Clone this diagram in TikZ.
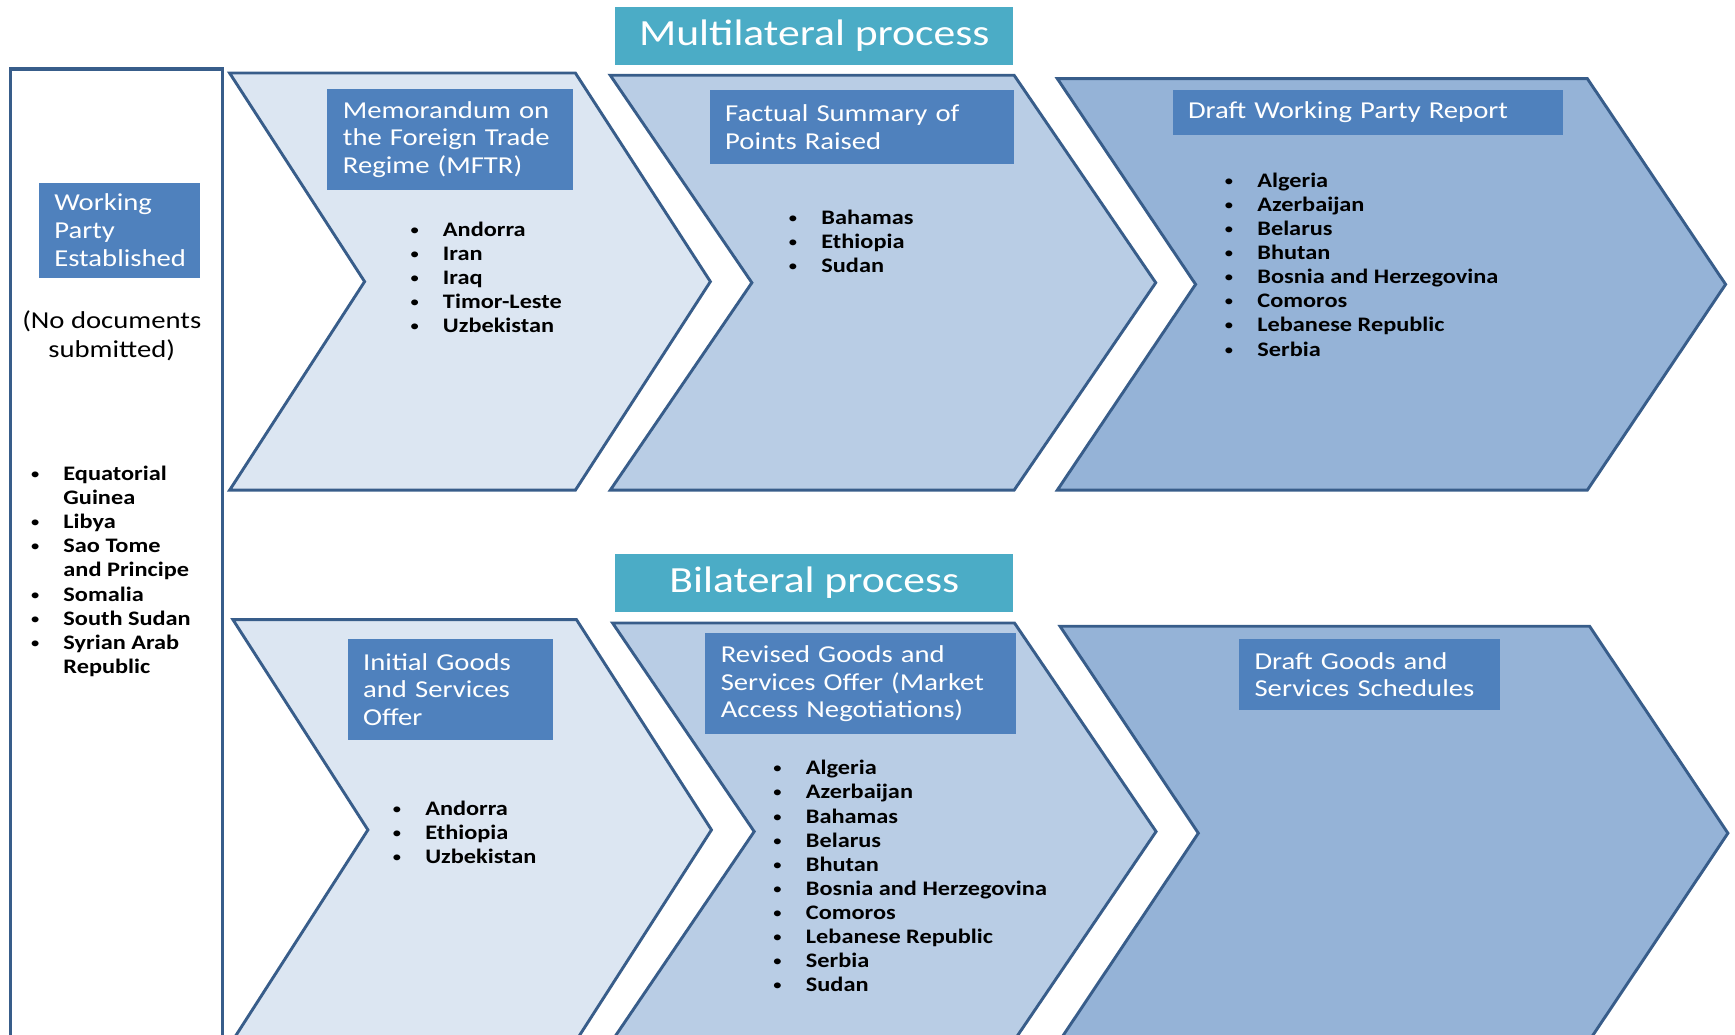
\documentclass[tikz,border=0pt]{standalone}
\usepackage{fontspec}
\setmainfont{Carlito}
\newfontfamily\wtoFont[FakeStretch=1.18]{Carlito}
\usetikzlibrary{positioning}
\definecolor{wtoLine}{HTML}{385D8A}
\definecolor{wtoBlue}{HTML}{4F81BD}
\definecolor{wtoTeal}{HTML}{4BACC6}
\definecolor{wtoPale}{HTML}{DCE6F2}
\definecolor{wtoMid}{HTML}{B9CDE5}
\definecolor{wtoDeep}{HTML}{95B3D7}
\tikzset{
   wtoStage/.style = {
         draw = wtoLine,
         line width = 1.5pt,
      },
   wtoPanel/.style = {
         draw = wtoLine,
         fill = white,
         line width = 1.6pt,
      },
   wtoTitle/.style = {
         rectangle,
         fill = wtoTeal,
         text = white,
         align = center,
         inner sep = 0pt,
         font = \wtoFont\fontsize{19}{22}\selectfont,
         minimum width = 7.19cm,
         minimum height = 1.06cm,
      },
   wtoHeader/.style = {
         rectangle,
         fill = wtoBlue,
         text = white,
         align = left,
         inner xsep = 8pt,
         inner ysep = 0pt,
         anchor = north west,
         font = \wtoFont\fontsize{12.5}{14.2}\selectfont,
      },
   % base west = baseline of the last line
   wtoList/.style = {
         align = left,
         inner sep = 0pt,
         anchor = base west,
         text = black,
         font = \wtoFont\bfseries\fontsize{10.6}{12.4}\selectfont,
      },
   wtoNote/.style = {
         align = center,
         inner sep = 0pt,
         anchor = base,
         text = black,
         font = \wtoFont\fontsize{12.5}{14.7}\selectfont,
      },
}
\newcommand{\wtoItem}[1]{\makebox[0.6cm][l]{\raisebox{0.5pt}{\mdseries\fontsize{8.5}{8}\selectfont\textbullet}}#1}
\newcommand{\wtoMore}[1]{\hspace*{0.6cm}#1}
\newcommand{\wtoChevron}[6]{%
   \path [wtoStage, fill=#1]
      (#2,#3) -- ++(#4,0) -- ++(#5,{(#6-#3)/2}) -- ++(-#5,{(#6-#3)/2})
      -- ++(-#4,0) -- ++(#5,{(#3-#6)/2}) -- cycle;
}

\begin{document}
\begin{tikzpicture}[x=0.02cm, y=-0.02cm, node distance = 2cm]

\useasboundingbox (0,0) rectangle (1568,935);

% Left panel
\draw [wtoPanel] (9.6,62.4) rectangle (200.8,950);

% Stages
\wtoChevron{wtoPale}{207.5}{66}{312.5}{122}{443}
\wtoChevron{wtoMid}{551.5}{68}{365}{128}{443}
\wtoChevron{wtoDeep}{955.5}{71}{479}{125}{443}

\wtoChevron{wtoPale}{210.5}{560}{310.5}{122}{940}
\wtoChevron{wtoMid}{553.6}{563}{363.2}{128}{940}
\wtoChevron{wtoDeep}{958}{566}{478.6}{125}{940}

% Titles
\node [wtoTitle] at (735.9,32.4) (multi){Multilateral process};
\node [wtoTitle, below of = multi, yshift=-7.89cm] (bilateral){Bilateral process};

% Place nodes
\node [wtoHeader, text width=2.354cm, minimum height=1.71cm] at (34.7,165)
	(established){Working\\Party\\Established};
\node [wtoNote] at (101,323) (nodocs){(No documents\\submitted)};
\node [wtoList] at (27,608.6) (pending){\wtoItem{Equatorial}\\\wtoMore{Guinea}\\\wtoItem{Libya}\\\wtoItem{Sao Tome}\\\wtoMore{and Principe}\\\wtoItem{Somalia}\\\wtoItem{South Sudan}\\\wtoItem{Syrian Arab}\\\wtoMore{Republic}};

\node [wtoHeader, text width=3.878cm, minimum height=1.838cm] at (295.5,79.8)
	(mftr){Memorandum on\\the Foreign Trade\\Regime (MFTR)};
\node [wtoList] at (370,300.5)
	(mftr-list){\wtoItem{Andorra}\\\wtoItem{Iran}\\\wtoItem{Iraq}\\\wtoItem{Timor-Leste}\\\wtoItem{Uzbekistan}};

\node [wtoHeader, text width=4.932cm, minimum height=1.338cm] at (641,81.3)
	(factual){Factual Summary of\\Points Raised};
\node [wtoList] at (712,246.1)
	(factual-list){\wtoItem{Bahamas}\\\wtoItem{Ethiopia}\\\wtoItem{Sudan}};

\node [wtoHeader, text width=6.504cm, minimum height=0.802cm] at (1059.3,81.3)
	(report){Draft Working Party Report};
\node [wtoList] at (1106,321.8)
	(report-list){\wtoItem{Algeria}\\\wtoItem{Azerbaijan}\\\wtoItem{Belarus}\\\wtoItem{Bhutan}\\\wtoItem{Bosnia and Herzegovina}\\\wtoItem{Comoros}\\\wtoItem{Lebanese Republic}\\\wtoItem{Serbia}};

\node [wtoHeader, text width=3.154cm, minimum height=1.838cm] at (313.8,576.9)
	(initial){Initial Goods\\and Services\\Offer};
\node [wtoList] at (354,780.2)
	(initial-list){\wtoItem{Andorra}\\\wtoItem{Ethiopia}\\\wtoItem{Uzbekistan}};

\node [wtoHeader, text width=5.054cm, minimum height=1.832cm] at (637,571.8)
	(revised){Revised Goods and\\Services Offer (Market\\Access Negotiations)};
\node [wtoList] at (698,896.3)
	(revised-list){\wtoItem{Algeria}\\\wtoItem{Azerbaijan}\\\wtoItem{Bahamas}\\\wtoItem{Belarus}\\\wtoItem{Bhutan}\\\wtoItem{Bosnia and Herzegovina}\\\wtoItem{Comoros}\\\wtoItem{Lebanese Republic}\\\wtoItem{Serbia}\\\wtoItem{Sudan}};

\node [wtoHeader, text width=4.164cm, minimum height=1.296cm] at (1119.4,576.9)
	(schedules){Draft Goods and\\Services Schedules};

\end{tikzpicture}
\end{document}
